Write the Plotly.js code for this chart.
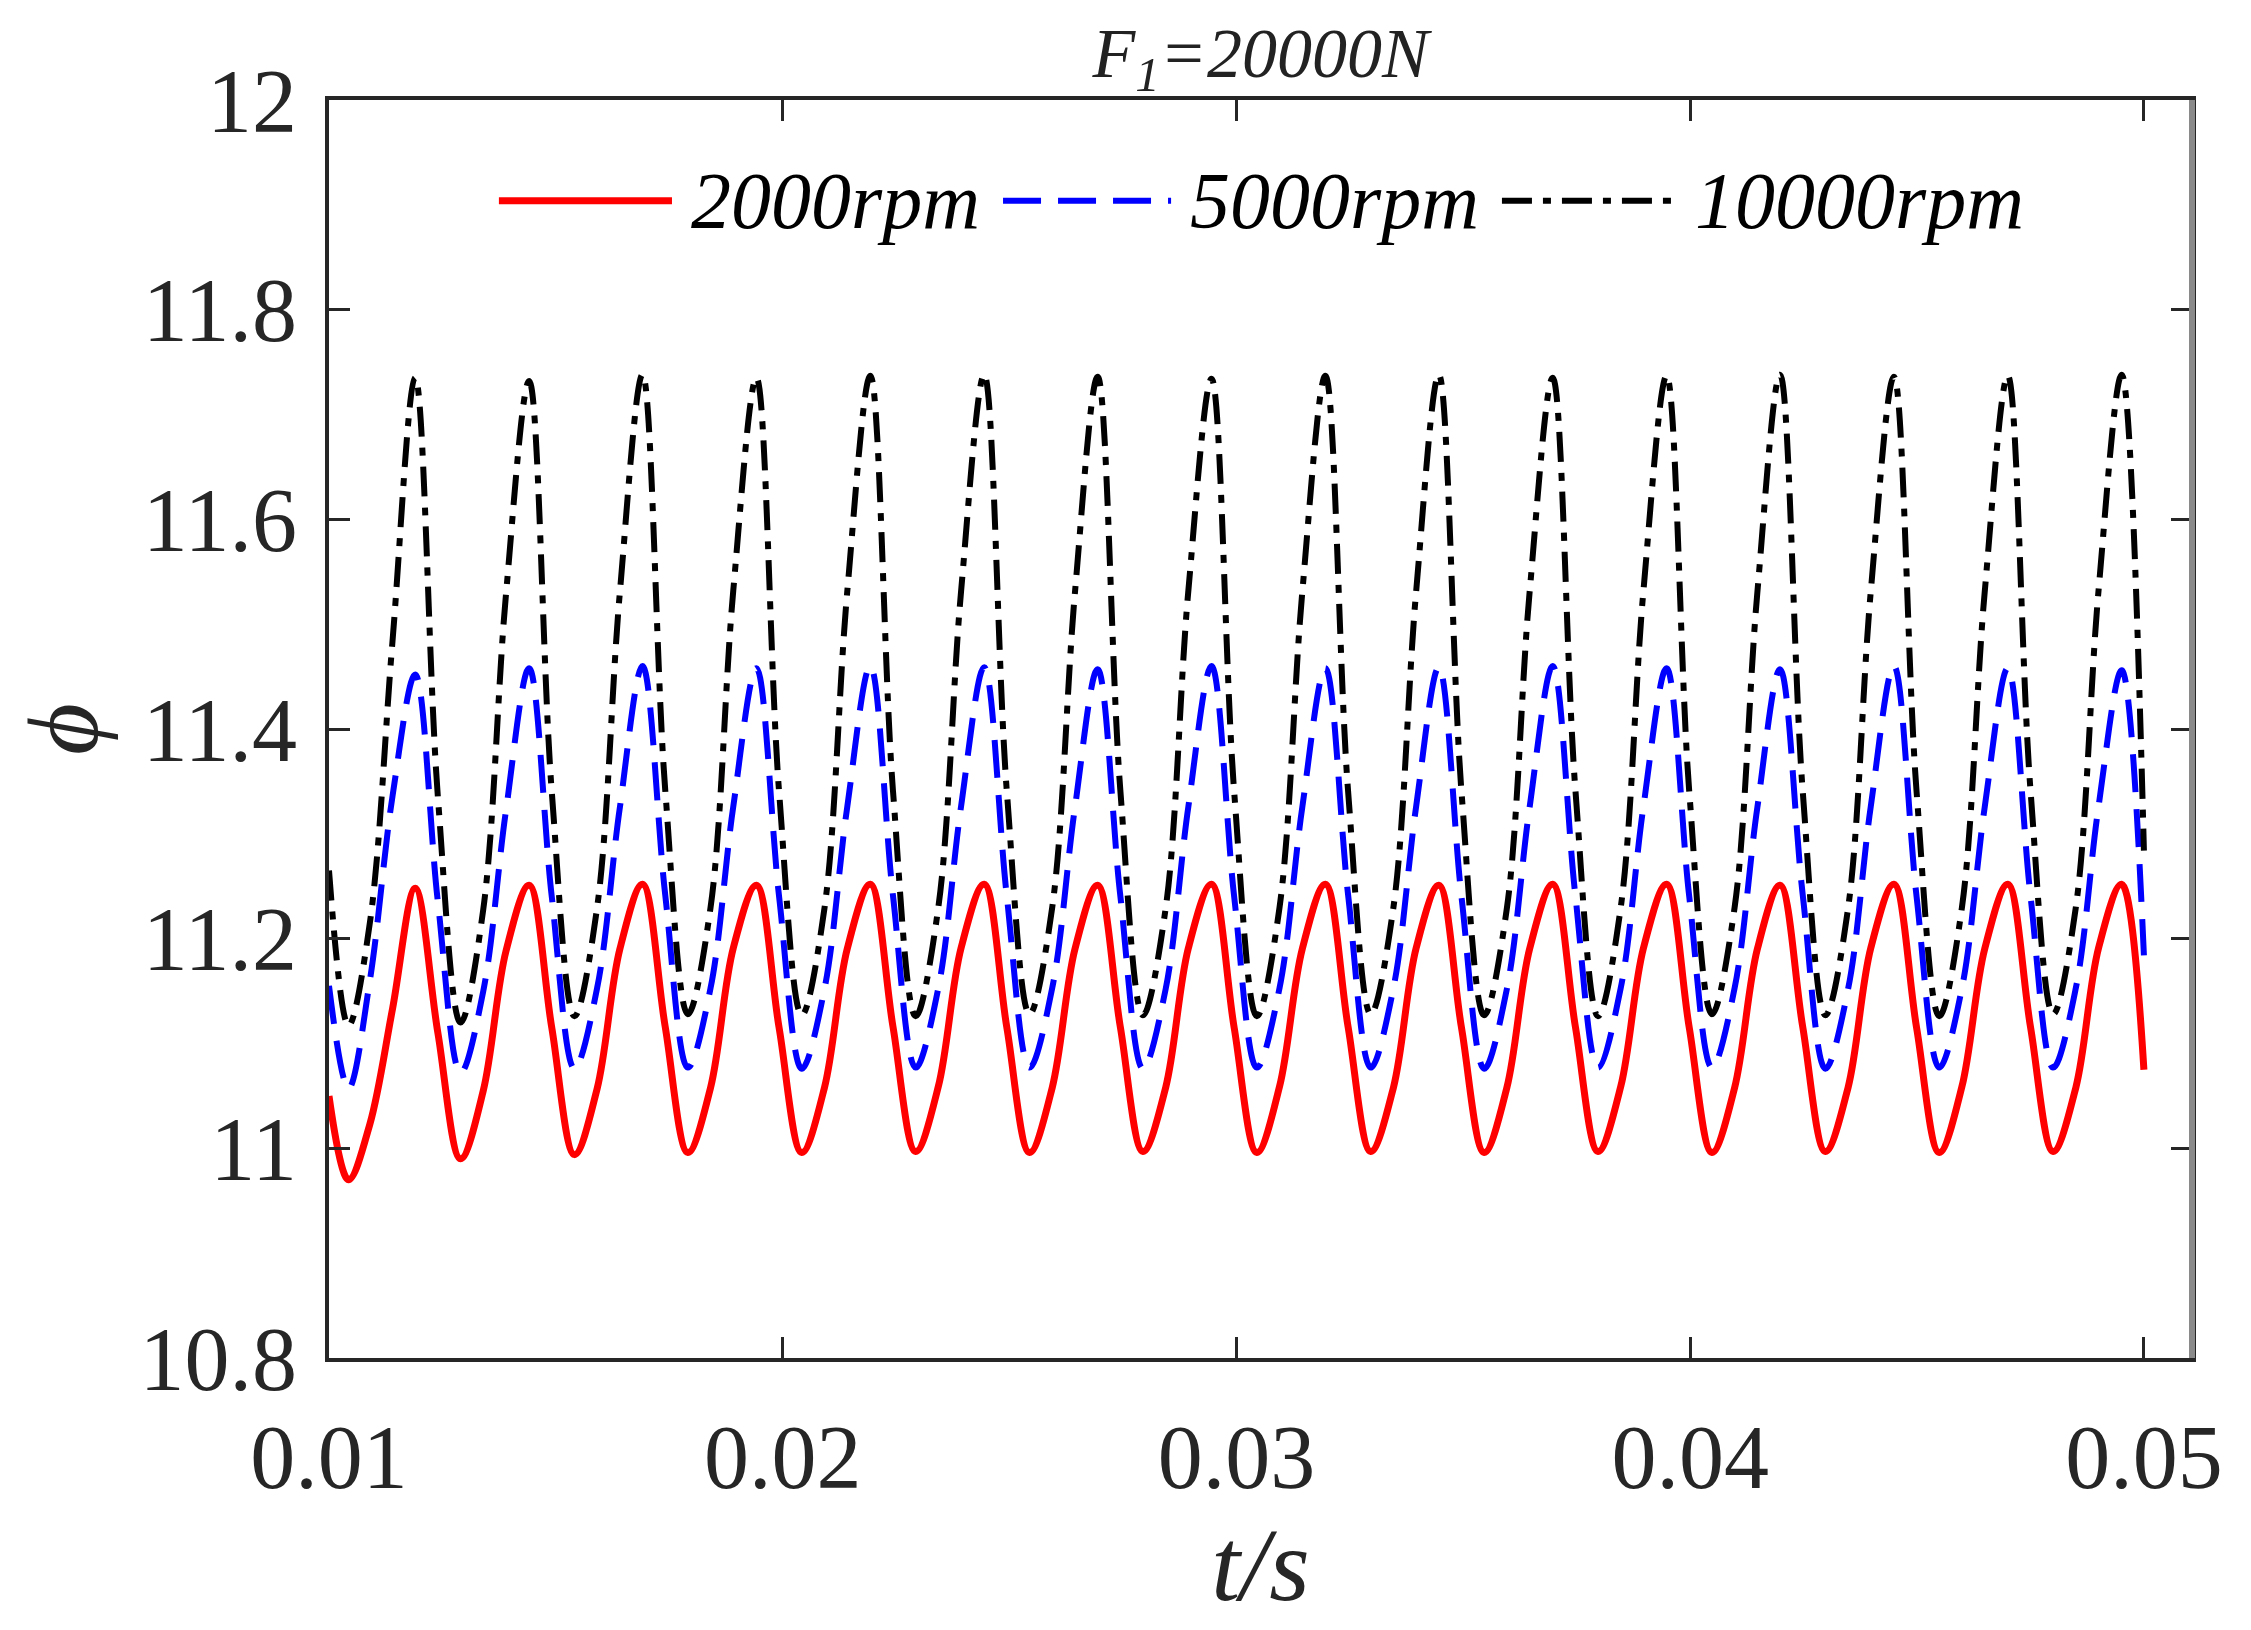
<!DOCTYPE html>
<html>
<head>
<meta charset="utf-8">
<script src="https://cdn.plot.ly/plotly-3.0.1.min.js"></script>
<style>
  html, body { margin: 0; padding: 0; background: #fff; }
  #chart { width: 2251px; height: 1630px; }
</style>
</head>
<body>
<div id="chart"></div>
<script>
// time axis (s): start, then 5 points per cycle, then the end
var tSec = [
  0.0100, 0.01043, 0.0109, 0.0114,
  0.0119, 0.0124, 0.0129, 0.0134, 0.0139,
  0.01441, 0.01491, 0.01541, 0.01591, 0.01641,
  0.01691, 0.01741, 0.01791, 0.01841, 0.01891,
  0.01942, 0.01992, 0.02042, 0.02092, 0.02142,
  0.02193, 0.02243, 0.02293, 0.02343, 0.02393,
  0.02444, 0.02494, 0.02544, 0.02594, 0.02644,
  0.02694, 0.02744, 0.02794, 0.02844, 0.02894,
  0.02945, 0.02995, 0.03045, 0.03095, 0.03145,
  0.03196, 0.03246, 0.03296, 0.03346, 0.03396,
  0.03446, 0.03496, 0.03546, 0.03596, 0.03646,
  0.03697, 0.03747, 0.03797, 0.03847, 0.03897,
  0.03948, 0.03998, 0.04048, 0.04098, 0.04148,
  0.04198, 0.04248, 0.04298, 0.04348, 0.04398,
  0.04449, 0.04499, 0.04549, 0.04599, 0.04649,
  0.04700, 0.04750, 0.04800, 0.04850, 0.04900,
  0.04951, 0.0500
];

var phi2000 = [
  11.05, 10.97, 11.023, 11.133,
  11.248, 11.11, 10.99, 11.055, 11.188,
  11.251, 11.115, 10.994, 11.057, 11.19,
  11.252, 11.116, 10.996, 11.058, 11.191,
  11.251, 11.115, 10.996, 11.058, 11.19,
  11.252, 11.116, 10.997, 11.059, 11.191,
  11.252, 11.115, 10.996, 11.058, 11.19,
  11.251, 11.116, 10.997, 11.058, 11.191,
  11.252, 11.115, 10.996, 11.059, 11.19,
  11.252, 11.116, 10.997, 11.058, 11.191,
  11.251, 11.115, 10.996, 11.058, 11.19,
  11.252, 11.116, 10.997, 11.059, 11.191,
  11.252, 11.115, 10.996, 11.058, 11.19,
  11.251, 11.116, 10.997, 11.058, 11.191,
  11.252, 11.115, 10.996, 11.059, 11.19,
  11.252, 11.116, 10.997, 11.058, 11.191,
  11.252, 11.075
];

var phi5000 = [
  11.155, 11.057, 11.16, 11.336,
  11.452, 11.235, 11.072, 11.15, 11.322,
  11.458, 11.24, 11.076, 11.153, 11.325,
  11.46, 11.242, 11.077, 11.153, 11.326,
  11.458, 11.24, 11.076, 11.152, 11.325,
  11.46, 11.241, 11.077, 11.153, 11.326,
  11.459, 11.24, 11.077, 11.153, 11.325,
  11.457, 11.241, 11.076, 11.152, 11.326,
  11.46, 11.24, 11.077, 11.153, 11.325,
  11.458, 11.242, 11.077, 11.153, 11.326,
  11.459, 11.24, 11.076, 11.152, 11.325,
  11.46, 11.241, 11.077, 11.153, 11.326,
  11.458, 11.24, 11.077, 11.153, 11.325,
  11.457, 11.242, 11.076, 11.152, 11.326,
  11.46, 11.24, 11.077, 11.153, 11.325,
  11.458, 11.241, 11.077, 11.153, 11.326,
  11.456, 11.184
];

var phi10000 = [
  11.265, 11.117, 11.215, 11.484,
  11.735, 11.335, 11.12, 11.228, 11.528,
  11.732, 11.34, 11.126, 11.23, 11.53,
  11.738, 11.342, 11.128, 11.23, 11.532,
  11.735, 11.34, 11.127, 11.229, 11.53,
  11.737, 11.341, 11.126, 11.23, 11.531,
  11.738, 11.34, 11.128, 11.23, 11.53,
  11.736, 11.342, 11.127, 11.229, 11.532,
  11.734, 11.34, 11.126, 11.23, 11.53,
  11.737, 11.341, 11.128, 11.23, 11.531,
  11.738, 11.34, 11.127, 11.229, 11.53,
  11.735, 11.342, 11.126, 11.23, 11.532,
  11.737, 11.34, 11.128, 11.23, 11.53,
  11.738, 11.341, 11.127, 11.229, 11.531,
  11.736, 11.34, 11.126, 11.23, 11.53,
  11.737, 11.342, 11.128, 11.23, 11.532,
  11.738, 11.284
];

var seriesNames = ['2000rpm', '5000rpm', '10000rpm'];
var seriesColors = ['#ff0000', '#0000ff', '#000000'];
var seriesWidth = [7, 6, 6];
var seriesDash = ['solid', '38px,17px', '30px,11px,8px,11px'];

var xTicks = [0.01, 0.02, 0.03, 0.04, 0.05];
var xTickText = ['0.01', '0.02', '0.03', '0.04', '0.05'];
var yTicks = [10.8, 11, 11.2, 11.4, 11.6, 11.8, 12];
var yTickText = ['10.8', '11', '11.2', '11.4', '11.6', '11.8', '12'];

var serif = 'Liberation Serif, Times New Roman, DejaVu Serif, serif';
var allY = [phi2000, phi5000, phi10000];

var traces = allY.map(function(y, i) {
  return {
    x: tSec,
    y: y,
    name: seriesNames[i],
    type: 'scatter',
    mode: 'lines',
    line: {color: seriesColors[i], width: seriesWidth[i], dash: seriesDash[i], shape: 'spline', smoothing: 1}
  };
});

// hand made legend row inside the top of the plot, MATLAB style
var legX = [[0.0912, 0.1841], [0.3618, 0.4520], [0.6296, 0.7230]];
var legY = 0.92;
var shapes = [];
var annotations = [];
legX.forEach(function(p, i) {
  shapes.push({
    type: 'line', xref: 'paper', yref: 'paper',
    x0: p[0], x1: p[1], y0: legY, y1: legY,
    line: {color: seriesColors[i], width: seriesWidth[i], dash: seriesDash[i]}
  });
  annotations.push({
    xref: 'paper', yref: 'paper', x: p[1] + 0.009, y: legY,
    xanchor: 'left', yanchor: 'middle', showarrow: false,
    text: '<i>' + seriesNames[i] + '</i>',
    font: {family: serif, size: 80, color: '#000'}
  });
});
// right frame edge is lighter grey in the original
shapes.push({
  type: 'line', xref: 'paper', yref: 'paper', x0: 1, x1: 1, y0: 0, y1: 1,
  line: {color: '#8a8a8a', width: 6}
});

var axisCommon = {
  ticks: 'inside', ticklen: 21, tickwidth: 3, tickcolor: '#262626',
  showline: true, linecolor: '#262626', linewidth: 4, mirror: 'ticks',
  showgrid: false, zeroline: false, automargin: false,
  tickfont: {family: serif, size: 90, color: '#262626'}
};

var layout = {
  width: 2251, height: 1630,
  margin: {l: 329, r: 59, t: 100, b: 272, pad: 0},
  paper_bgcolor: '#fff', plot_bgcolor: '#fff',
  showlegend: false,
  title: {
    text: '<i>F<sub>1</sub>=20000N</i>',
    font: {family: serif, size: 70, color: '#222'},
    x: 0.56, xanchor: 'center', y: 0.968, yanchor: 'middle'
  },
  xaxis: Object.assign({}, axisCommon, {
    range: [0.01, 0.05106],
    tickvals: xTicks, ticktext: xTickText,
    ticklabelstandoff: 18,
    title: {text: '<i>t/s</i>', font: {family: serif, size: 104, color: '#262626'}, standoff: 10}
  }),
  yaxis: Object.assign({}, axisCommon, {
    range: [10.8, 12],
    tickvals: yTicks, ticktext: yTickText,
    ticklabelstandoff: 10,
    title: {text: '<i>ϕ</i>', font: {family: serif, size: 100, color: '#262626'}, standoff: 10}
  }),
  shapes: shapes,
  annotations: annotations
};

Plotly.newPlot('chart', traces, layout, {displayModeBar: false, staticPlot: true});
</script>
</body>
</html>
